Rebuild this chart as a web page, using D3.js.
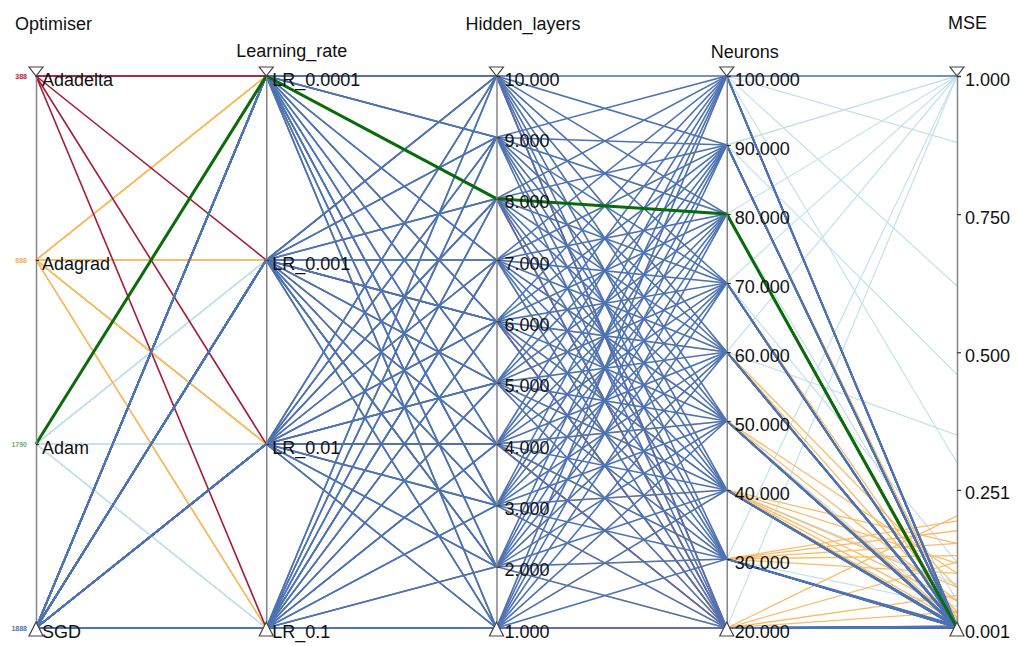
<!DOCTYPE html>
<html>
<head>
<meta charset="utf-8">
<script src="https://cdn.jsdelivr.net/npm/d3@7"></script>
<style>
    body { margin: 0; background: #fff; }
    svg { font-family: "Liberation Sans", Arial, sans-serif; }
</style>
</head>
<body>
<div id="chart"></div>
<script>
// axes and tick labels
const dimensions = ["Optimiser", "Learning_rate", "Hidden_layers", "Neurons", "MSE"];
const optimisers = ["Adadelta", "Adagrad", "Adam", "SGD"];
const optimiserCounts = ["388", "888", "1790", "1888"];
const learningRates = ["LR_0.0001", "LR_0.001", "LR_0.01", "LR_0.1"];
const hiddenTicks = [1, 2, 3, 4, 5, 6, 7, 8, 9, 10];
const neuronTicks = [20, 30, 40, 50, 60, 70, 80, 90, 100];
const mseTicks = [0.001, 0.251, 0.500, 0.750, 1.000];

// runs: [learning rate index, hidden layers, neurons, MSE]
const sgdRuns = [
    [0, 10, 100, 1.000], [1, 10, 90, 0.003], [2, 10, 80, 0.002], [3, 10, 70, 0.004], [0, 10, 60, 0.002],
    [1, 10, 50, 0.006], [2, 10, 40, 0.003], [3, 10, 30, 0.002], [1, 10, 20, 0.004],
    [1, 9, 100, 0.002], [0, 9, 90, 0.004], [3, 9, 80, 0.003], [2, 9, 70, 0.002], [1, 9, 60, 0.005],
    [3, 9, 50, 0.002], [0, 9, 40, 0.003], [2, 9, 30, 0.006], [0, 9, 20, 0.002],
    [2, 8, 100, 0.003], [3, 8, 90, 0.002], [0, 8, 80, 0.004], [1, 8, 70, 0.003], [2, 8, 60, 0.002],
    [0, 8, 50, 0.003], [3, 8, 40, 0.005], [1, 8, 30, 0.002], [2, 8, 20, 0.003],
    [3, 7, 100, 0.004], [2, 7, 90, 0.002], [1, 7, 80, 0.003], [0, 7, 70, 0.005], [3, 7, 60, 0.002],
    [2, 7, 50, 0.004], [1, 7, 40, 0.002], [0, 7, 30, 0.003], [3, 7, 20, 0.002],
    [0, 6, 100, 0.003], [1, 6, 90, 0.005], [2, 6, 80, 0.002], [3, 6, 70, 0.003], [1, 6, 60, 0.004],
    [0, 6, 50, 0.002], [3, 6, 40, 0.003], [2, 6, 30, 0.004], [1, 6, 20, 0.002],
    [1, 5, 100, 0.002], [2, 5, 90, 0.003], [3, 5, 80, 0.004], [0, 5, 70, 0.002], [2, 5, 60, 0.003],
    [1, 5, 50, 0.005], [0, 5, 40, 0.002], [3, 5, 30, 0.003], [2, 5, 20, 0.004],
    [2, 4, 100, 0.005], [3, 4, 90, 0.002], [0, 4, 80, 0.003], [1, 4, 70, 0.004], [3, 4, 60, 0.002],
    [2, 4, 50, 0.003], [1, 4, 40, 0.004], [0, 4, 30, 0.002], [3, 4, 20, 0.003],
    [3, 3, 100, 0.002], [0, 3, 90, 0.003], [1, 3, 80, 0.002], [2, 3, 70, 0.004], [0, 3, 60, 0.003],
    [3, 3, 50, 0.002], [2, 3, 40, 0.005], [1, 3, 30, 0.003], [0, 3, 20, 0.002],
    [0, 2, 100, 0.004], [1, 2, 90, 0.002], [2, 2, 80, 0.003], [3, 2, 70, 0.002], [1, 2, 60, 0.004],
    [0, 2, 50, 0.003], [3, 2, 40, 0.002], [2, 2, 30, 0.004], [1, 2, 20, 0.003],
    [1, 1, 100, 0.003], [2, 1, 90, 0.004], [3, 1, 80, 0.002], [0, 1, 70, 0.003], [2, 1, 60, 0.002],
    [1, 1, 50, 0.004], [0, 1, 40, 0.003], [3, 1, 30, 0.002], [3, 1, 20, 0.002]
];

const adagradRuns = [
    [0, 3, 20, 0.204], [1, 5, 20, 0.120], [2, 7, 20, 0.060], [3, 2, 20, 0.030],
    [0, 6, 30, 0.195], [1, 8, 30, 0.177], [2, 4, 30, 0.154], [3, 9, 30, 0.100], [1, 2, 30, 0.132],
    [0, 1, 40, 0.118], [1, 10, 40, 0.075], [2, 3, 40, 0.050], [3, 6, 40, 0.028], [0, 8, 40, 0.012],
    [2, 5, 40, 0.154], [1, 4, 50, 0.100], [2, 9, 50, 0.050], [3, 7, 50, 0.012],
    [0, 2, 60, 0.030], [1, 6, 60, 0.004], [2, 10, 60, 0.075], [3, 5, 70, 0.020],
    [0, 9, 80, 0.008], [1, 3, 90, 0.015], [2, 1, 100, 0.006]
];

const adamRuns = [
    [1, 4, 90, 1.000], [2, 6, 80, 1.000], [3, 2, 70, 1.000], [1, 9, 60, 1.000], [2, 3, 90, 1.000],
    [3, 7, 20, 1.000], [1, 5, 30, 1.000], [2, 8, 100, 1.000], [3, 1, 100, 0.620], [1, 10, 100, 0.300],
    [2, 5, 90, 0.460], [3, 6, 80, 0.050], [1, 3, 70, 0.120], [2, 7, 50, 0.020], [3, 9, 40, 0.080],
    [1, 2, 100, 0.880], [2, 4, 60, 0.350], [1, 6, 40, 0.001], [3, 8, 30, 0.040]
];

const adadeltaRuns = [
    [0, 10, 20, 0.001], [1, 6, 20, 0.001], [2, 4, 20, 0.001], [3, 1, 20, 0.001], [0, 8, 20, 0.001]
];

// highlighted run
const bestRun = ["Adam", 0, 8, 80, 0.001];

const colors = { Adadelta: "#a31c3b", Adagrad: "#f9bd6a", Adam: "#c5e1ea", SGD: "#4d73b4" };
const countColors = { Adadelta: "#b0203f", Adagrad: "#f5ae55", Adam: "#6fae6f", SGD: "#4d73b4" };
const widths = { Adadelta: 1.6, Adagrad: 1.3, Adam: 1.2, SGD: 1.6 };

function toRows(opt, runs) {
    return runs.map(r => ({
        Optimiser: opt,
        Learning_rate: learningRates[r[0]],
        Hidden_layers: r[1],
        Neurons: r[2],
        MSE: r[3]
    }));
}

const width = 1022, height = 646;
const yTop = 76, yBottom = 628;

const svg = d3.select("#chart")
    .append("svg")
    .attr("width", width)
    .attr("height", height);

const x = d3.scalePoint().domain(dimensions).range([36, 957]);

const y = {
    Optimiser: d3.scalePoint().domain(optimisers).range([yTop, yBottom]),
    Learning_rate: d3.scalePoint().domain(learningRates).range([yTop, yBottom]),
    Hidden_layers: d3.scaleLinear().domain([1, 10]).range([yBottom, yTop]),
    Neurons: d3.scaleLinear().domain([20, 100]).range([yBottom, yTop]),
    MSE: d3.scaleLinear().domain([0.001, 1]).range([yBottom, yTop])
};

const line = d3.line();
const path = d => line(dimensions.map(k => [x(k), y[k](d[k])]));

// draw order: light ones first, SGD on top
const groups = [
    ["Adam", adamRuns],
    ["Adagrad", adagradRuns],
    ["Adadelta", adadeltaRuns],
    ["SGD", sgdRuns]
];

groups.forEach(([opt, runs]) => {
    svg.append("g")
        .selectAll("path")
        .data(toRows(opt, runs))
        .enter().append("path")
        .attr("d", path)
        .attr("fill", "none")
        .attr("stroke", colors[opt])
        .attr("stroke-width", widths[opt]);
});

svg.append("path")
    .datum(toRows(bestRun[0], [bestRun.slice(1)])[0])
    .attr("d", path)
    .attr("fill", "none")
    .attr("stroke", "#0b6b0b")
    .attr("stroke-width", 3);

// axes
dimensions.forEach(k => {
    const scale = y[k];
    let axis = d3.axisRight(scale).tickSizeOuter(0);
    if (k === "Hidden_layers") axis.tickValues(hiddenTicks).tickFormat(d3.format(".3f"));
    if (k === "Neurons") axis.tickValues(neuronTicks).tickFormat(d3.format(".3f"));
    if (k === "MSE") axis.tickValues(mseTicks).tickFormat(d3.format(".3f"));
    const cat = k === "Optimiser" || k === "Learning_rate";
    axis.tickSize(cat ? 3 : 4).tickPadding(cat ? 3 : 4);

    const g = svg.append("g")
        .attr("transform", `translate(${x(k)},0)`)
        .call(axis);
    g.select(".domain").attr("stroke", "#858585").attr("stroke-width", 1.5);
    g.selectAll(".tick line").attr("stroke", "#333").attr("stroke-width", 1.2);
    g.selectAll(".tick text")
        .attr("font-size", 18)
        .attr("font-family", "Liberation Sans, Arial, sans-serif")
        .attr("fill", "#111")
        .attr("dy", "0.5em");
});

// end triangles
dimensions.forEach(k => {
    const cx = x(k);
    svg.append("path")
        .attr("d", `M${cx - 7},${yTop - 9}L${cx + 7},${yTop - 9}L${cx},${yTop}Z`)
        .attr("fill", "#fff")
        .attr("stroke", "#444")
        .attr("stroke-width", 1.2);
    svg.append("path")
        .attr("d", `M${cx},${yBottom - 6}L${cx - 7},${yBottom + 8}L${cx + 7},${yBottom + 8}Z`)
        .attr("fill", "#fff")
        .attr("stroke", "#444")
        .attr("stroke-width", 1.2);
});

// counts left of the optimiser axis
svg.append("g")
    .selectAll("text")
    .data(optimisers)
    .enter().append("text")
    .attr("x", x("Optimiser") - 9)
    .attr("y", d => y.Optimiser(d) + 3)
    .attr("text-anchor", "end")
    .attr("font-size", 7)
    .attr("font-weight", "bold")
    .attr("fill", d => countColors[d])
    .text((d, i) => optimiserCounts[i]);

// axis titles, staggered
const titleDx = [-21, -30, -31, -16, -9];
const titleY = [30, 57, 30, 58, 29];
svg.append("g")
    .selectAll("text")
    .data(dimensions)
    .enter().append("text")
    .attr("x", (d, i) => x(d) + titleDx[i])
    .attr("y", (d, i) => titleY[i])
    .attr("font-size", 18)
    .attr("fill", "#111")
    .text(d => d);
</script>
</body>
</html>
